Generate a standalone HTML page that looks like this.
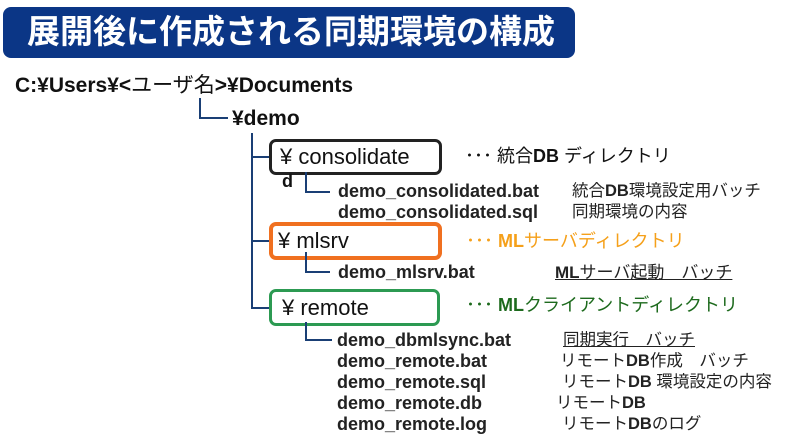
<!DOCTYPE html>
<html><head><meta charset="utf-8"><style>
body{margin:0;width:807px;height:444px;background:#fff;position:relative;overflow:hidden;font-family:"Liberation Sans","Noto Sans CJK JP",sans-serif;color:#111}
.a{position:absolute;white-space:nowrap;line-height:1}
.b{font-weight:bold}
.l{position:absolute;background:#1a3f75}
.box{position:absolute;border-radius:7px;box-sizing:border-box;border:3px solid #222;background:#fff}
.f{font-size:18px;font-weight:bold;color:#222}
.d{font-size:16.5px;color:#222}
</style></head><body>
<div style="position:absolute;left:3px;top:7px;width:572px;height:51px;background:#0b3686;border-radius:8px"></div>
<div class="a b" style="left:27px;top:15px;font-size:33px;color:#fff">展開後に作成される同期環境の構成</div>
<div class="a b" style="left:15px;top:75px;font-size:21px">C:¥Users¥&lt;<span style="font-weight:normal">ユーザ名</span>&gt;¥Documents</div>
<div class="l" style="left:199px;top:98px;width:2px;height:21px"></div>
<div class="l" style="left:199px;top:117px;width:29px;height:2px"></div>
<div class="a b" style="left:232px;top:108px;font-size:21px">¥demo</div>
<div class="l" style="left:251px;top:133px;width:2px;height:176px"></div>
<div class="l" style="left:251px;top:156px;width:20px;height:2px"></div>
<div class="l" style="left:251px;top:240px;width:20px;height:2px"></div>
<div class="l" style="left:251px;top:307px;width:20px;height:2px"></div>
<div class="box" style="left:269px;top:139px;width:173px;height:36px;border-color:#222"></div>
<div class="a" style="left:280px;top:146px;font-size:22px">¥ consolidate</div>
<div class="a" style="left:465px;top:147px;font-size:18px">･･･ 統合<b>DB</b> ディレクトリ</div>
<div class="a b" style="left:282px;top:172px;font-size:18px">d</div>
<div class="l" style="left:305px;top:172px;width:2px;height:21px"></div>
<div class="l" style="left:305px;top:191px;width:25px;height:2px"></div>
<div class="a f" style="left:338px;top:182px">demo_consolidated.bat</div>
<div class="a d" style="left:572px;top:183px">統合<b>DB</b>環境設定用バッチ</div>
<div class="a f" style="left:338px;top:203px">demo_consolidated.sql</div>
<div class="a d" style="left:572px;top:204px">同期環境の内容</div>
<div class="box" style="left:269px;top:222px;width:173px;height:38px;border-color:#f07020;border-width:4px"></div>
<div class="a" style="left:278px;top:230px;font-size:22px">¥ mlsrv</div>
<div class="a" style="left:466px;top:232px;font-size:18px;color:#f5a01a">･･･ <b>ML</b>サーバディレクトリ</div>
<div class="l" style="left:305px;top:252px;width:2px;height:21px"></div>
<div class="l" style="left:305px;top:271px;width:25px;height:2px"></div>
<div class="a f" style="left:338px;top:263px">demo_mlsrv.bat</div>
<div class="a d" style="left:555px;top:264px;font-size:17px;text-decoration:underline"><b>ML</b>サーバ起動　バッチ</div>
<div class="box" style="left:269px;top:289px;width:171px;height:37px;border-color:#2c9a52"></div>
<div class="a" style="left:282px;top:297px;font-size:22px">¥ remote</div>
<div class="a" style="left:466px;top:296px;font-size:18px;color:#1d6a1d">･･･ <b>ML</b>クライアントディレクトリ</div>
<div class="l" style="left:305px;top:322px;width:2px;height:19px"></div>
<div class="l" style="left:305px;top:339px;width:27px;height:2px"></div>
<div class="a f" style="left:337px;top:331px">demo_dbmlsync.bat</div>
<div class="a d" style="left:563px;top:332px;text-decoration:underline">同期実行　バッチ</div>
<div class="a f" style="left:337px;top:352px">demo_remote.bat</div>
<div class="a d" style="left:560px;top:353px">リモート<b>DB</b>作成　バッチ</div>
<div class="a f" style="left:337px;top:373px">demo_remote.sql</div>
<div class="a d" style="left:562px;top:374px">リモート<b>DB</b> 環境設定の内容</div>
<div class="a f" style="left:337px;top:394px">demo_remote.db</div>
<div class="a d" style="left:556px;top:395px">リモート<b>DB</b></div>
<div class="a f" style="left:337px;top:415px">demo_remote.log</div>
<div class="a d" style="left:562px;top:416px">リモート<b>DB</b>のログ</div>
</body></html>
